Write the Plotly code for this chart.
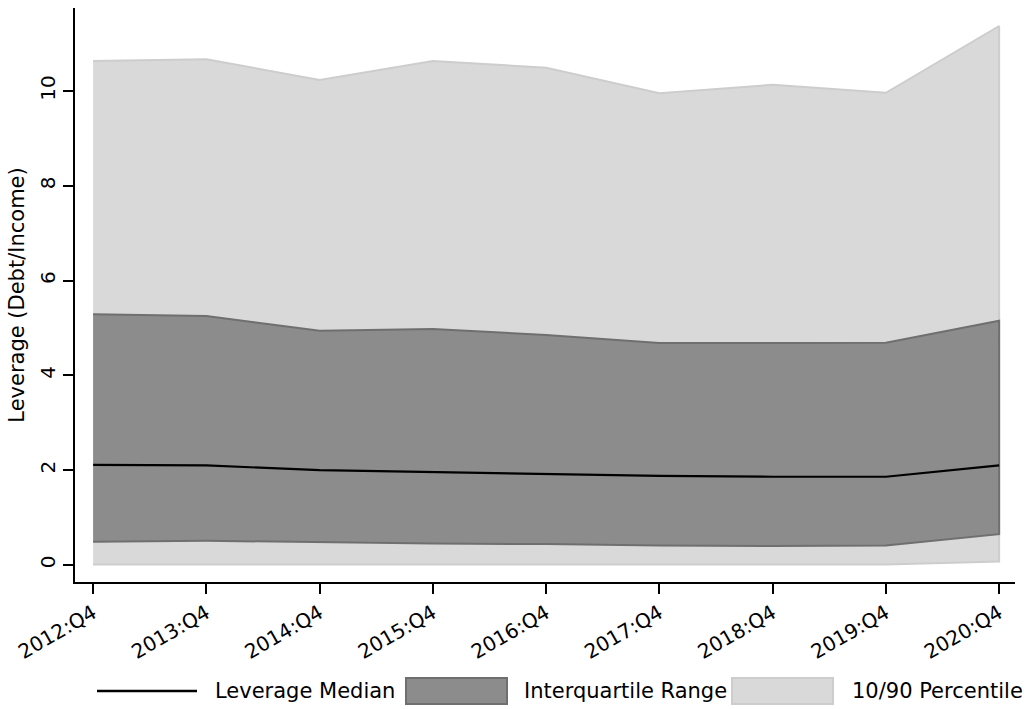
import plotly.graph_objects as go

# Quarterly leverage distribution (debt / income)
quarters = ["2012:Q4", "2013:Q4", "2014:Q4", "2015:Q4", "2016:Q4",
            "2017:Q4", "2018:Q4", "2019:Q4", "2020:Q4"]
p90 = [10.63, 10.67, 10.23, 10.63, 10.49, 9.95, 10.13, 9.96, 11.37]
p75 = [5.29, 5.25, 4.94, 4.98, 4.85, 4.68, 4.68, 4.69, 5.15]
median = [2.11, 2.10, 2.00, 1.96, 1.92, 1.88, 1.86, 1.86, 2.10]
p25 = [0.49, 0.51, 0.48, 0.45, 0.44, 0.41, 0.40, 0.41, 0.65]
p10 = [0.01, 0.01, 0.01, 0.01, 0.01, 0.01, 0.01, 0.01, 0.07]
y_ticks = [0, 2, 4, 6, 8, 10]

FONT = "DejaVu Sans"
LIGHT_FILL, LIGHT_EDGE = "#d9d9d9", "#cdcdcd"
DARK_FILL, DARK_EDGE = "#8c8c8c", "#6f6f6f"

W, H = 1029, 709
M = dict(l=75, r=14, t=8, b=127)
PW, PH = W - M["l"] - M["r"], H - M["t"] - M["b"]


def px_x(px):
    return (px - M["l"]) / PW


def px_y(py):
    return (H - M["b"] - py) / PH


def band(lower, upper, fill, edge):
    return go.Scatter(
        x=quarters + quarters[::-1],
        y=upper + lower[::-1],
        fill="toself",
        fillcolor=fill,
        mode="lines",
        line=dict(color=edge, width=2),
        hoverinfo="skip",
        showlegend=False,
    )


fig = go.Figure()
fig.add_trace(band(p10, p90, LIGHT_FILL, LIGHT_EDGE))
fig.add_trace(band(p25, p75, DARK_FILL, DARK_EDGE))
fig.add_trace(go.Scatter(
    x=quarters, y=median, mode="lines",
    line=dict(color="black", width=2.2),
    name="Leverage Median", showlegend=False,
))

# Legend row below the axes
shapes = [
    dict(type="line", xref="paper", yref="paper",
         x0=px_x(97), x1=px_x(197), y0=px_y(691), y1=px_y(691),
         line=dict(color="black", width=2.5)),
    dict(type="rect", xref="paper", yref="paper",
         x0=px_x(406), x1=px_x(507), y0=px_y(704), y1=px_y(678),
         fillcolor=DARK_FILL, line=dict(color=DARK_EDGE, width=2)),
    dict(type="rect", xref="paper", yref="paper",
         x0=px_x(732), x1=px_x(833), y0=px_y(704), y1=px_y(678),
         fillcolor=LIGHT_FILL, line=dict(color=LIGHT_EDGE, width=2)),
]
legend_text = [("Leverage Median", 213), ("Interquartile Range", 522),
               ("10/90 Percentile", 850)]
annotations = [
    dict(text=t, xref="paper", yref="paper", x=px_x(x0), y=px_y(691),
         xanchor="left", yanchor="middle", showarrow=False,
         font=dict(family=FONT, size=21, color="black"))
    for t, x0 in legend_text
]

fig.update_layout(
    width=W, height=H,
    margin=M,
    paper_bgcolor="white", plot_bgcolor="white",
    font=dict(family=FONT, color="black"),
    showlegend=False,
    shapes=shapes,
    annotations=annotations,
    xaxis=dict(
        type="category",
        categoryorder="array", categoryarray=quarters,
        range=[-0.16, 8.14],
        showline=True, linecolor="black", linewidth=1.5,
        ticks="outside", ticklen=10, tickcolor="black", tickwidth=1.5,
        tickangle=-30,
        tickfont=dict(family=FONT, size=20, color="black"),
        showgrid=False, zeroline=False,
    ),
    yaxis=dict(
        range=[-0.36, 11.75],
        tickvals=y_ticks,
        showline=True, linecolor="black", linewidth=1.5,
        ticks="outside", ticklen=10, tickcolor="black", tickwidth=1.5,
        tickangle=-90,
        tickfont=dict(family=FONT, size=20, color="black"),
        title=dict(text="Leverage (Debt/Income)",
                   font=dict(family=FONT, size=21, color="black"),
                   standoff=6),
        showgrid=False, zeroline=False,
    ),
)

fig.write_html("out.html")
